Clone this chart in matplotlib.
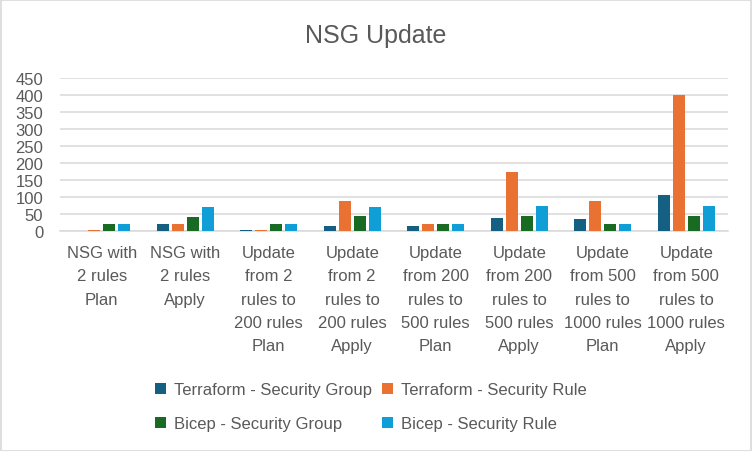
import matplotlib
matplotlib.use("Agg")
import matplotlib.pyplot as plt
from matplotlib.patches import Rectangle
import numpy as np

categories = [
    "NSG with\n2 rules\nPlan",
    "NSG with\n2 rules\nApply",
    "Update\nfrom 2\nrules to\n200 rules\nPlan",
    "Update\nfrom 2\nrules to\n200 rules\nApply",
    "Update\nfrom 200\nrules to\n500 rules\nPlan",
    "Update\nfrom 200\nrules to\n500 rules\nApply",
    "Update\nfrom 500\nrules to\n1000 rules\nPlan",
    "Update\nfrom 500\nrules to\n1000 rules\nApply",
]
series_names = ["Terraform - Security Group", "Terraform - Security Rule",
                "Bicep - Security Group", "Bicep - Security Rule"]
tf_sg = [0, 20, 3, 15, 15, 37, 34, 105]
tf_sr = [3, 20, 3, 88, 20, 173, 87, 400]
bi_sg = [20, 40, 20, 43, 20, 43, 20, 43]
bi_sr = [20, 70, 20, 70, 20, 73, 20, 73]
yticks = [0, 50, 100, 150, 200, 250, 300, 350, 400, 450]

colors = ["#156082", "#E97132", "#196B24", "#0F9ED5"]
text_color = "#595959"
grid_color = "#D9D9D9"

plt.rcParams["font.family"] = ["Liberation Sans", "DejaVu Sans"]

fig = plt.figure(figsize=(7.52, 4.52), dpi=100)
ax = fig.add_axes([60 / 752, (452 - 231.7) / 452, 668 / 752, (231.7 - 79) / 452])

x = np.arange(len(categories))
bw = 12 / 83.5
pitch = 15 / 83.5
handles = []
for i, (vals, c, name) in enumerate(zip([tf_sg, tf_sr, bi_sg, bi_sr], colors, series_names)):
    h = ax.bar(x + (i - 1.5) * pitch, vals, width=bw, color=c, label=name, zorder=3)
    handles.append(h)

ax.set_xlim(-0.5, len(categories) - 0.5)
ax.set_ylim(0, 450)
ax.set_yticks(yticks)
ax.set_yticklabels([str(v) for v in yticks])
ax.set_xticks(x)
ax.set_xticklabels(categories, linespacing=1.68)
ax.yaxis.grid(True, color=grid_color, linewidth=1.1, zorder=0)
ax.set_axisbelow(True)
for s in ["top", "right", "left"]:
    ax.spines[s].set_visible(False)
ax.spines["bottom"].set_color(grid_color)
ax.spines["bottom"].set_linewidth(1.1)
ax.tick_params(axis="both", length=0, labelsize=12, labelcolor=text_color)
ax.tick_params(axis="y", pad=12)
ax.tick_params(axis="x", pad=10.5)

fig.text(376 / 752, (452 - 36) / 452, "NSG Update", ha="center", va="center",
         fontsize=18, color=text_color)

# row-major order: mpl fills columns first
leg_handles = [handles[0], handles[2], handles[1], handles[3]]
leg_labels = [series_names[0], series_names[2], series_names[1], series_names[3]]
leg = fig.legend(leg_handles, leg_labels, loc="center",
                 bbox_to_anchor=(371 / 752, (452 - 407.5) / 452),
                 ncol=2, frameon=False, fontsize=12, handlelength=0.65, handleheight=0.65,
                 handletextpad=0.5, columnspacing=0.6, labelspacing=1.15, borderpad=0,
                 borderaxespad=0)
for t in leg.get_texts():
    t.set_color(text_color)

fig.patches.append(Rectangle((0.5 / 752, 0.5 / 452), 750.5 / 752, 450.5 / 452,
                             transform=fig.transFigure, fill=False,
                             edgecolor=grid_color, linewidth=1.2))

fig.savefig("out.png", dpi=100, facecolor="white")
